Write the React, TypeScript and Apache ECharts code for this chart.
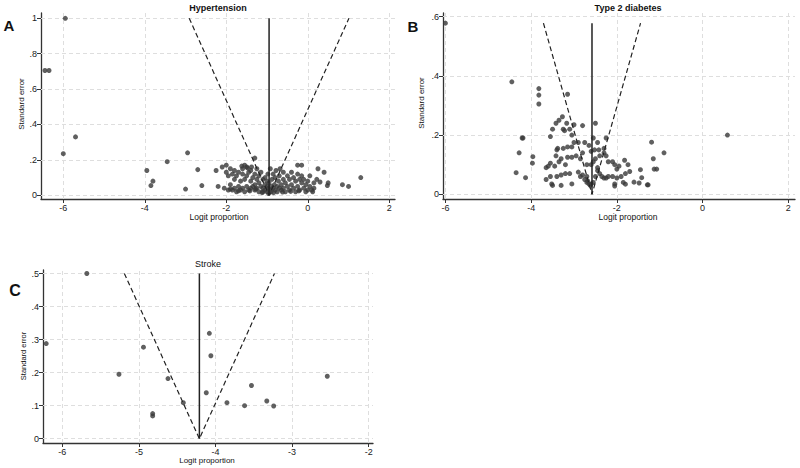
import React, { useEffect, useRef } from "react";
import * as echarts from "echarts";

// ---------- Data ----------
// Hypertension: [logit proportion, standard error]
const hypertensionPoints: [number, number][] = [
  [-5.95, 1.0], [-6.45, 0.705], [-6.35, 0.705], [-5.7, 0.33], [-6.0, 0.235],
  [-3.95, 0.14], [-3.85, 0.055], [-3.8, 0.08], [-3.45, 0.19], [-2.95, 0.24], [-3.0, 0.035],
  [-2.7, 0.145], [-2.6, 0.055], [-2.25, 0.14], [-2.2, 0.05], [-2.1, 0.16], [-2.0, 0.17], [-1.3, 0.21],
  [-0.25, 0.17], [-0.15, 0.17], [0.25, 0.15], [0.4, 0.13], [0.5, 0.07], [0.48, 0.055], [0.85, 0.06],
  [1.0, 0.05], [1.3, 0.1], [0.05, 0.11], [0.22, 0.09], [0.3, 0.075],
  [-2.05, 0.04], [-2.0, 0.13], [-1.95, 0.11], [-1.95, 0.03], [-1.9, 0.15], [-1.9, 0.06],
  [-1.85, 0.12], [-1.85, 0.03], [-1.8, 0.09], [-1.8, 0.14], [-1.8, 0.04], [-1.75, 0.02],
  [-1.75, 0.11], [-1.7, 0.13], [-1.7, 0.05], [-1.65, 0.08], [-1.65, 0.03], [-1.6, 0.15],
  [-1.6, 0.12], [-1.6, 0.04], [-1.55, 0.17], [-1.55, 0.09], [-1.55, 0.02], [-1.5, 0.16],
  [-1.5, 0.11], [-1.5, 0.05], [-1.45, 0.13], [-1.45, 0.03], [-1.4, 0.14], [-1.4, 0.08],
  [-1.4, 0.04], [-1.35, 0.1], [-1.35, 0.05], [-1.3, 0.12], [-1.3, 0.06], [-1.3, 0.03],
  [-1.25, 0.15], [-1.25, 0.09], [-1.25, 0.04], [-1.2, 0.11], [-1.2, 0.07], [-1.2, 0.02],
  [-1.15, 0.13], [-1.15, 0.05], [-1.1, 0.09], [-1.1, 0.04], [-1.1, 0.02], [-1.05, 0.1],
  [-1.05, 0.06], [-1.05, 0.03], [-1.0, 0.08], [-1.0, 0.05], [-1.0, 0.02], [-0.98, 0.12],
  [-0.97, 0.04], [-0.96, 0.01], [-0.95, 0.07], [-0.93, 0.03], [-0.92, 0.15], [-0.9, 0.05],
  [-0.9, 0.02], [-0.88, 0.09], [-0.85, 0.04], [-0.85, 0.12], [-0.82, 0.06], [-0.8, 0.03],
  [-0.8, 0.1], [-0.78, 0.14], [-0.75, 0.05], [-0.75, 0.02], [-0.72, 0.08], [-0.7, 0.11],
  [-0.7, 0.04], [-0.68, 0.15], [-0.65, 0.06], [-0.65, 0.03], [-0.6, 0.09], [-0.6, 0.13],
  [-0.6, 0.04], [-0.55, 0.07], [-0.55, 0.02], [-0.5, 0.11], [-0.5, 0.05], [-0.45, 0.09],
  [-0.45, 0.03], [-0.4, 0.13], [-0.4, 0.06], [-0.35, 0.04], [-0.35, 0.1], [-0.3, 0.08],
  [-0.3, 0.02], [-0.25, 0.12], [-0.25, 0.05], [-0.2, 0.09], [-0.2, 0.03], [-0.15, 0.07],
  [-0.15, 0.11], [-0.1, 0.04], [-0.1, 0.09], [-0.05, 0.06], [-0.05, 0.02], [0.0, 0.08],
  [0.0, 0.03], [0.05, 0.05], [0.1, 0.03], [0.15, 0.04], [0.15, 0.07], [0.12, 0.02],
  [-1.62, 0.165], [-1.48, 0.155], [-1.38, 0.16], [-1.9, 0.035], [-1.7, 0.025], [-1.42, 0.025],
  [-1.28, 0.035], [-1.12, 0.015], [-0.84, 0.015], [-0.62, 0.018], [-0.42, 0.022], [-0.22, 0.025],
];
const hypertensionPooled = -0.95;
const hypertensionMaxSE = 1.0;

// Type 2 diabetes
const diabetesPoints: [number, number][] = [
  [-6.0, 0.578], [-4.45, 0.38], [-3.82, 0.357], [-3.82, 0.335], [-3.82, 0.305], [-3.15, 0.338],
  [-4.19, 0.19], [-4.21, 0.19], [-4.28, 0.14], [-3.96, 0.127], [-3.97, 0.105], [-4.35, 0.073],
  [-4.13, 0.056], [0.58, 0.2],
  [-1.19, 0.176], [-1.15, 0.12], [-0.9, 0.14], [-1.13, 0.085], [-1.07, 0.085], [-1.45, 0.083],
  [-1.42, 0.056], [-1.48, 0.038], [-1.29, 0.032], [-1.27, 0.032], [-1.6, 0.041], [-1.74, 0.1],
  [-1.82, 0.115], [-1.7, 0.077], [-1.8, 0.034],
  [-3.55, 0.195], [-3.5, 0.22], [-3.42, 0.24], [-3.35, 0.25], [-3.27, 0.262], [-3.25, 0.22],
  [-3.22, 0.215], [-3.17, 0.24], [-3.1, 0.22], [-3.05, 0.2], [-3.0, 0.235], [-2.8, 0.232],
  [-3.42, 0.13], [-3.4, 0.15], [-3.38, 0.155], [-3.25, 0.155], [-3.15, 0.16], [-3.05, 0.16],
  [-3.0, 0.175], [-2.9, 0.175], [-2.8, 0.14], [-2.75, 0.175], [-2.65, 0.165], [-2.6, 0.145],
  [-2.55, 0.19], [-2.45, 0.175], [-2.3, 0.155], [-2.25, 0.19], [-2.5, 0.24],
  [-3.65, 0.09], [-3.6, 0.095], [-3.55, 0.105], [-3.45, 0.095], [-3.35, 0.11], [-3.3, 0.12],
  [-3.2, 0.1], [-3.15, 0.125], [-3.05, 0.125], [-2.95, 0.13], [-2.85, 0.12], [-2.7, 0.1],
  [-2.6, 0.1], [-2.5, 0.12], [-2.4, 0.13], [-2.3, 0.14], [-2.25, 0.13], [-2.2, 0.11],
  [-2.1, 0.11], [-2.05, 0.1], [-2.0, 0.085], [-1.95, 0.095],
  [-3.65, 0.05], [-3.55, 0.06], [-3.52, 0.035], [-3.5, 0.03], [-3.4, 0.06], [-3.3, 0.065],
  [-3.3, 0.03], [-3.2, 0.07], [-3.1, 0.07], [-3.05, 0.035], [-2.9, 0.075], [-2.85, 0.06],
  [-2.8, 0.065], [-2.75, 0.05], [-2.7, 0.04], [-2.65, 0.035], [-2.6, 0.035], [-2.55, 0.04],
  [-2.5, 0.06], [-2.45, 0.08], [-2.4, 0.07], [-2.35, 0.06], [-2.3, 0.055], [-2.25, 0.055],
  [-2.2, 0.06], [-2.1, 0.06], [-2.05, 0.035], [-2.05, 0.028], [-2.0, 0.055], [-1.9, 0.06],
  [-1.85, 0.04], [-1.8, 0.07], [-2.7, 0.06], [-2.68, 0.045], [-2.62, 0.03], [-2.55, 0.11],
  [-2.45, 0.09], [-2.52, 0.15], [-2.42, 0.15],
];
const diabetesPooled = -2.58;
const diabetesMaxSE = 0.578;

// Stroke
const strokePoints: [number, number][] = [
  [-6.21, 0.288], [-5.68, 0.5], [-5.26, 0.195], [-4.94, 0.277], [-4.82, 0.076], [-4.82, 0.069],
  [-4.62, 0.182], [-4.42, 0.109], [-4.12, 0.139], [-4.08, 0.319], [-4.06, 0.251], [-3.85, 0.109],
  [-3.62, 0.1], [-3.53, 0.161], [-3.33, 0.114], [-3.24, 0.099], [-2.54, 0.189],
];
const strokePooled = -4.21;
const strokeMaxSE = 0.5;

const abXTicks = [-6, -4, -2, 0, 2];
const cXTicks = [-6, -5, -4, -3, -2];
const aYTicks = [0, 0.2, 0.4, 0.6, 0.8, 1];
const bYTicks = [0, 0.2, 0.4, 0.6];
const cYTicks = [0, 0.1, 0.2, 0.3, 0.4, 0.5];

const FONT = '"Liberation Sans", Arial, sans-serif';
const AXIS = "#333";
const DOT = "#383838";

const fmt = (v: number) => {
  const s = String(Math.round(v * 100) / 100);
  return s.replace(/^0\./, ".").replace(/^-0\./, "-.");
};

function axis(gridIndex: number, min: number, max: number, ticks: number[]) {
  return {
    type: "value",
    gridIndex,
    min,
    max,
    axisLine: { show: true, onZero: false, lineStyle: { color: AXIS, width: 1.3 } },
    axisTick: { show: true, customValues: ticks, length: 4, lineStyle: { color: AXIS, width: 1 } },
    axisLabel: {
      customValues: ticks,
      formatter: fmt,
      fontSize: 9,
      color: "#222",
      margin: 4,
      fontFamily: FONT,
    },
    splitLine: { show: false },
  };
}

function seriesFor(
  g: number,
  pts: [number, number][],
  pooled: number,
  maxSE: number,
  xt: number[],
  yt: number[]
) {
  return [
    {
      type: "line",
      xAxisIndex: g,
      yAxisIndex: g,
      data: [],
      silent: true,
      z: 1,
      markLine: {
        silent: true,
        z: 1,
        symbol: ["none", "none"],
        label: { show: false },
        lineStyle: { type: [4, 3], color: "#dedede", width: 1 },
        data: [...xt.map((v) => ({ xAxis: v })), ...yt.map((v) => ({ yAxis: v }))],
      },
    },
    {
      type: "scatter",
      xAxisIndex: g,
      yAxisIndex: g,
      data: pts,
      symbolSize: 5,
      itemStyle: { color: DOT },
      z: 6,
    },
    {
      type: "line",
      xAxisIndex: g,
      yAxisIndex: g,
      data: [
        [pooled - 1.96 * maxSE, maxSE],
        [pooled, 0],
        [pooled + 1.96 * maxSE, maxSE],
      ],
      symbol: "none",
      lineStyle: { type: [5, 3], color: "#222", width: 1.2 },
      z: 7,
    },
    {
      type: "line",
      xAxisIndex: g,
      yAxisIndex: g,
      data: [
        [pooled, 0],
        [pooled, maxSE],
      ],
      symbol: "none",
      lineStyle: { color: "#222", width: 1.5 },
      z: 7,
    },
  ];
}

function txt(text: string, x: number, y: number, font: string, rotate = 0, align = "center") {
  return {
    type: "text",
    x,
    y,
    rotation: rotate,
    style: { text, font, fill: "#111", textAlign: align, textVerticalAlign: "middle" },
  };
}

export default function App() {
  const ref = useRef<HTMLDivElement>(null);
  useEffect(() => {
    if (!ref.current) return;
    const chart = echarts.init(ref.current, null, { renderer: "svg" });
    const option: any = {
      animation: false,
      backgroundColor: "#fff",
      grid: [
        { left: 41, top: 13, width: 354, height: 186 },
        { left: 443, top: 13, width: 352, height: 186 },
        { left: 43, top: 270, width: 330, height: 173 },
      ],
      xAxis: [
        axis(0, -6.547, 2.14, abXTicks),
        axis(1, -6.056, 2.156, abXTicks),
        axis(2, -6.252, -1.943, cXTicks),
      ],
      yAxis: [
        axis(0, -0.021, 1.03, aYTicks),
        axis(1, -0.016, 0.6125, bYTicks),
        axis(2, -0.013, 0.5106, cYTicks),
      ],
      series: [
        ...seriesFor(0, hypertensionPoints, hypertensionPooled, hypertensionMaxSE, abXTicks, aYTicks),
        ...seriesFor(1, diabetesPoints, diabetesPooled, diabetesMaxSE, abXTicks, bYTicks),
        ...seriesFor(2, strokePoints, strokePooled, strokeMaxSE, cXTicks, cYTicks),
      ],
      graphic: [
        txt("A", 9, 25, `bold 15px ${FONT}`),
        txt("B", 413, 26, `bold 15px ${FONT}`),
        txt("C", 15, 290, `bold 16px ${FONT}`),
        txt("Hypertension", 218, 8, `bold 9px ${FONT}`),
        txt("Type 2 diabetes", 628, 8, `bold 9px ${FONT}`),
        txt("Stroke", 208, 264, `9px ${FONT}`),
        txt("Standard error", 21, 104, `8px ${FONT}`, Math.PI / 2),
        txt("Standard error", 421, 103, `8px ${FONT}`, Math.PI / 2),
        txt("Standard error", 23, 356, `7.5px ${FONT}`, Math.PI / 2),
        txt("Logit proportion", 219, 217, `8.5px ${FONT}`),
        txt("Logit proportion", 628, 217, `8.5px ${FONT}`),
        txt("Logit proportion", 207, 460, `8px ${FONT}`),
      ],
    };
    chart.setOption(option);
    return () => chart.dispose();
  }, []);
  return (
    <div
      ref={ref}
      style={{ position: "fixed", left: 0, top: 0, width: 800, height: 468, background: "#fff" }}
    />
  );
}
